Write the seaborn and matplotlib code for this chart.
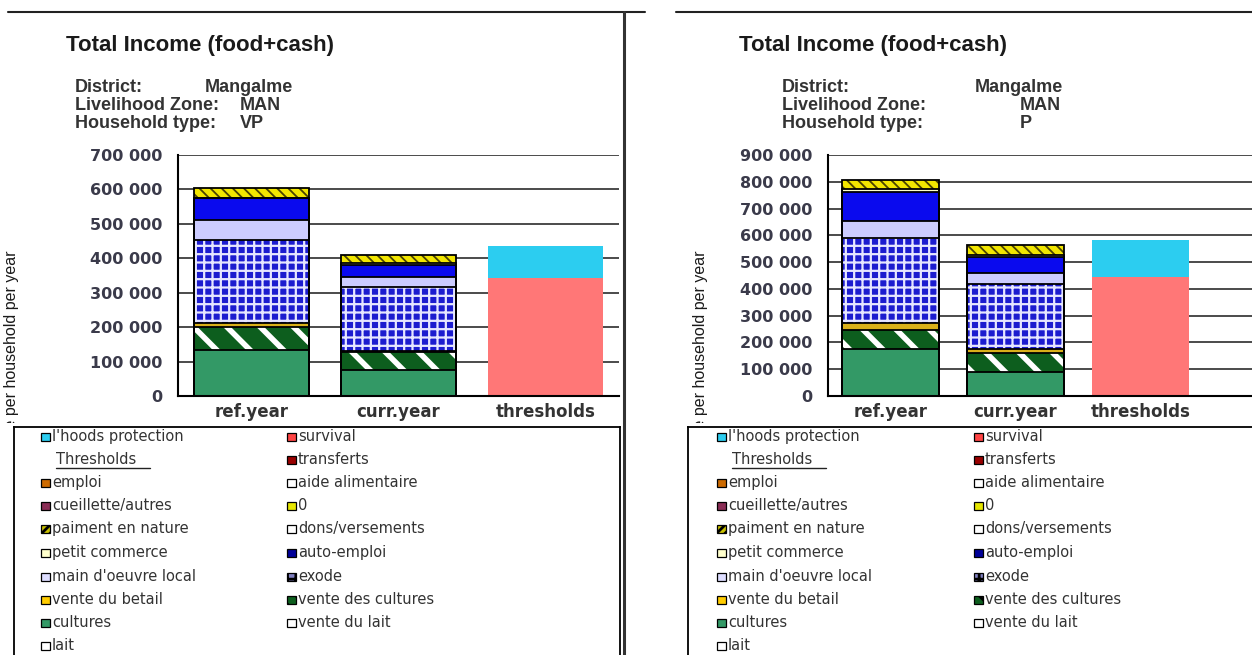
import matplotlib
matplotlib.use('Agg')
from matplotlib import pyplot as plt
from matplotlib.patches import Rectangle
from matplotlib.transforms import Bbox, TransformedBbox
import pandas as pd
import seaborn as sns

W, H = 1252, 655

categories = ['ref.year', 'curr.year', 'thresholds']
years = ['ref.year', 'curr.year']

# income sources, stacked from the bottom up
sources = ['cultures', 'vente des cultures', 'vente du betail', 'exode',
           "main d'oeuvre local", 'auto-emploi', 'petit commerce', 'paiment en nature']

# very poor (VP) households, values per source for ref.year / curr.year
vp_ref = [133000, 66000, 13000, 240000, 58000, 66000, 0, 28000]
vp_curr = [75000, 53000, 4000, 184000, 31000, 34000, 5000, 23000]
vp_survival = 343000
vp_protection = 94000

# poor (P) households
p_ref = [177000, 69000, 25000, 319000, 62000, 108000, 12000, 35000]
p_curr = [88000, 74000, 15000, 243000, 40000, 59000, 9000, 36000]
p_survival = 445000
p_protection = 136000

# face colour, hatch, hatch colour, hatch width
styles = {
    'cultures': ('#339966', '', 'black', 1),
    'vente des cultures': ('#0d5e1e', '\\', 'white', 4),
    'vente du betail': ('#d9b01a', '', 'black', 1),
    'exode': ('#1c1ccf', '++', '#e6e6ff', 1.6),
    "main d'oeuvre local": ('#ccccff', '', 'black', 1),
    'auto-emploi': ('#0a0aee', '', 'black', 1),
    'petit commerce': ('#ffffcc', '', 'black', 1),
    'paiment en nature': ('#f2e600', '\\\\\\', '#4a4200', 1.3),
    'survival': ('#ff7777', '', 'black', 1),
    "l'hoods protection": ('#2ccdf0', '', 'black', 1),
}

legend_col1 = [("l'hoods protection", '#2ccdf0', ''), ('Thresholds', None, ''),
               ('emploi', '#cc6a00', ''), ('cueillette/autres', '#8a2d55', ''),
               ('paiment en nature', '#c8c000', '////'), ('petit commerce', '#ffffcc', ''),
               ("main d'oeuvre local", '#ddddff', ''), ('vente du betail', '#ffcc00', ''),
               ('cultures', '#339966', ''), ('lait', 'white', '')]
legend_col2 = [('survival', '#ff4444', ''), ('transferts', '#990000', ''),
               ('aide alimentaire', 'white', ''), ('0', '#e6e600', ''),
               ('dons/versements', 'white', ''), ('auto-emploi', '#000099', ''),
               ('exode', '#8080c0', '++'), ('vente des cultures', '#0d5e1e', '\\\\'),
               ('vente du lait', 'white', '')]


def px_axes(fig, x0, y0, x1, y1, **kw):
    return fig.add_axes([x0 / W, 1 - y1 / H, (x1 - x0) / W, (y1 - y0) / H], **kw)


def styled_bars(ax, data, face, hatch, hcolor, hlw, edge=False):
    before = len(ax.patches)
    sns.barplot(data=data, x='year', y='top', order=categories, width=0.78,
                errorbar=None, ax=ax)
    for p in ax.patches[before:]:
        if edge:
            p.set_facecolor('none')
            p.set_edgecolor('black')
            p.set_linewidth(1.3)
        else:
            p.set_facecolor(face)
            p.set_edgecolor(hcolor)
            p.set_linewidth(0)
            p.set_hatch(hatch if hatch else None)
            if hatch and hasattr(p, 'set_hatch_linewidth'):
                p.set_hatch_linewidth(hlw)


def draw_panel(ax, ref_vals, curr_vals, survival, protection, ymax, xmax):
    df = pd.DataFrame({
        'year': ['ref.year'] * len(sources) + ['curr.year'] * len(sources),
        'source': sources * 2,
        'value': ref_vals + curr_vals,
    })
    df['top'] = df.groupby('year')['value'].cumsum()
    # draw cumulative bars from the top layer down so each covers the one above
    for s in reversed(sources):
        face, hatch, hc, hlw = styles[s]
        styled_bars(ax, df[df.source == s], face, hatch, hc, hlw)
    for s in reversed(sources):
        styled_bars(ax, df[df.source == s], None, None, None, None, edge=True)

    th = pd.DataFrame({'year': ['thresholds'] * 2,
                       'source': ['survival', "l'hoods protection"],
                       'value': [survival, protection]})
    th['top'] = th['value'].cumsum()
    for s in ["l'hoods protection", 'survival']:
        face, hatch, hc, hlw = styles[s]
        styled_bars(ax, th[th.source == s], face, hatch, hc, hlw)

    ax.set_xlim(-0.5, xmax)
    ax.set_ylim(0, ymax)
    ticks = list(range(0, ymax + 1, 100000))
    ax.set_yticks(ticks)
    ax.set_yticklabels([f'{t:,}'.replace(',', ' ') for t in ticks],
                       fontsize=11.5, fontweight='bold', color='#3a3a4a')
    ax.set_xticks([0, 1, 2])
    ax.set_xticklabels(categories, fontsize=12, fontweight='bold', color='#333333')
    ax.set_xticks([0.5, 1.5], minor=True)
    ax.tick_params(axis='x', which='major', length=0, pad=5)
    ax.tick_params(axis='x', which='minor', length=4, width=1.2)
    ax.tick_params(axis='y', length=6, width=1.2, pad=8, direction='inout')
    ax.set_xlabel('')
    ax.set_ylabel('')
    ax.yaxis.grid(True, color='#1a1a1a', linewidth=1.1)
    ax.xaxis.grid(False)
    ax.set_axisbelow(True)
    for side in ['top', 'right']:
        ax.spines[side].set_visible(False)
    for side in ['left', 'bottom']:
        ax.spines[side].set_color('black')
        ax.spines[side].set_linewidth(1.5)
    ax.set_facecolor('none')


def draw_legend(ax, x1, x2):
    rows = [437, 460, 483, 506, 529, 553, 577, 600, 623, 646]
    for col, x in ((legend_col1, x1), (legend_col2, x2)):
        for (label, color, hatch), y in zip(col, rows):
            if color is None:
                ax.text(x + 4, y, label, fontsize=10.5, va='center', color='#333333')
                ax.plot([x + 4, x + 98], [y + 8, y + 8], color='#222222', lw=1)
                continue
            ax.add_patch(Rectangle((x - 11, y - 4), 9, 8, facecolor=color,
                                   edgecolor='black', lw=0.9, hatch=hatch or None))
            ax.text(x, y, label, fontsize=10.5, va='center', color='#333333')


sns.set_style('white')
plt.rcParams['font.family'] = ['DejaVu Sans']
plt.rcParams['hatch.linewidth'] = 2

fig = plt.figure(figsize=(W / 100, H / 100), dpi=100)
bg = px_axes(fig, 0, 0, W, H, zorder=-5)
bg.set_xlim(0, W)
bg.set_ylim(H, 0)
bg.axis('off')

# page lines
bg.plot([8, 645], [12, 12], color='#222222', lw=1.5)
bg.plot([624, 624], [12, H], color='#333333', lw=2.2)
bg.plot([676, W], [12, 12], color='#222222', lw=1.5)

panels = [
    dict(x_axis=178, x_right=619, cw=147, ref=vp_ref, curr=vp_curr, surv=vp_survival,
         prot=vp_protection, ymax=700000, hh='VP', cx=200, lab_x=75,
         val1=205, val2=240, ylab_x=12, leg=(14, 620), leg_cols=(52, 298)),
    dict(x_axis=828, x_right=W, cw=125, ref=p_ref, curr=p_curr, surv=p_survival,
         prot=p_protection, ymax=900000, hh='P', cx=873, lab_x=782,
         val1=975, val2=1020, ylab_x=700, leg=(688, W + 5), leg_cols=(728, 985)),
]

clip = TransformedBbox(Bbox([[0, 0], [W, 423]]), bg.transData)

for pn in panels:
    xmax = -0.5 + (pn['x_right'] - pn['x_axis']) / pn['cw']
    ax = px_axes(fig, pn['x_axis'], 155, pn['x_right'], 396)
    draw_panel(ax, pn['ref'], pn['curr'], pn['surv'], pn['prot'], pn['ymax'], xmax)

    bg.text(pn['cx'], 45, 'Total Income (food+cash)', fontsize=16, fontweight='bold',
            family='Liberation Sans', ha='center', va='center', color='#1a1a1a')
    for y, lab, val, vx in ((88, 'District:', 'Mangalme', pn['val1']),
                            (106, 'Livelihood Zone:', 'MAN', pn['val2']),
                            (124, 'Household type:', pn['hh'], pn['val2'])):
        bg.text(pn['lab_x'], y, lab, fontsize=13, fontweight='bold',
                family='Liberation Sans', va='center', color='#333333')
        bg.text(vx, y, val, fontsize=13, fontweight='bold',
                family='Liberation Sans', va='center', color='#333333')
    t = bg.text(pn['ylab_x'], 250, 'Income per household per year', rotation=90,
                fontsize=11.5, family=['Liberation Sans Narrow', 'Liberation Sans'],
                ha='center', va='top', color='#1a1a1a')
    t.set_clip_box(clip)
    t.set_clip_on(True)

    leg = px_axes(fig, pn['leg'][0], 427, pn['leg'][1], H + 5, zorder=5)
    leg.set_xlim(pn['leg'][0], pn['leg'][1])
    leg.set_ylim(H + 5, 427)
    leg.set_xticks([])
    leg.set_yticks([])
    leg.set_facecolor('white')
    for side in leg.spines.values():
        side.set_color('black')
        side.set_linewidth(1.3)
    draw_legend(leg, *pn['leg_cols'])

fig.savefig('out.png', dpi=100)
